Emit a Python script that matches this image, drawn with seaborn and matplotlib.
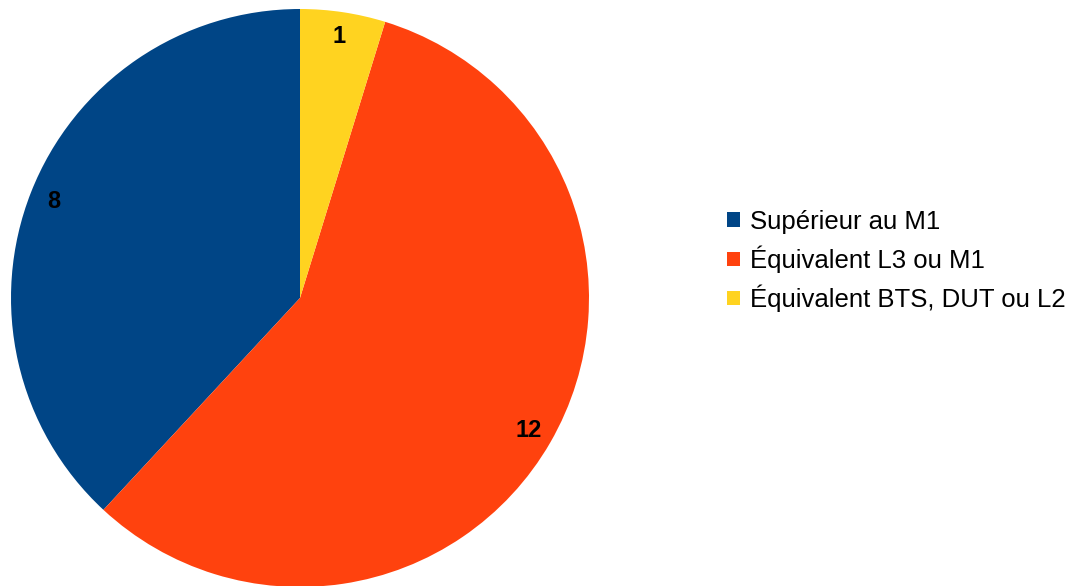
import matplotlib
matplotlib.use("Agg")
import matplotlib.pyplot as plt
import seaborn as sns

# Données
categories = ["Supérieur au M1", "Équivalent L3 ou M1", "Équivalent BTS, DUT ou L2"]
valeurs = [8, 12, 1]
couleurs = ["#004586", "#ff420e", "#ffd320"]

sns.set_theme(style="white")
plt.rcParams['font.family'] = ['Liberation Sans', 'DejaVu Sans']
plt.rcParams['text.color'] = 'black'

fig = plt.figure(figsize=(10.78, 5.86), dpi=100)
# axe placé pour que le camembert soit centré vers (300, 298) px, rayon ~289 px
ax = fig.add_axes([11 / 1078, (288 - 289) / 586, 578 / 1078, 578 / 586])

palette = sns.color_palette(couleurs)
wedges, textes = ax.pie(
    valeurs,
    colors=palette,
    startangle=90,
    counterclock=True,
    labels=[str(v) for v in valeurs],
    labeldistance=0.915,
    wedgeprops=dict(linewidth=0, edgecolor='none'),
    textprops=dict(fontsize=17, fontweight='bold', color='black', ha='center', va='center'),
)
ax.set_xlim(-1, 1)
ax.set_ylim(-1, 1)
ax.set_aspect('equal')

leg = fig.legend(
    wedges, categories,
    loc='center left',
    bbox_to_anchor=(727 / 1078, 1 - 261 / 586),
    frameon=False,
    fontsize=18.5,
    handlelength=0.5,
    handleheight=0.5,
    handletextpad=0.4,
    labelspacing=0.45,
    borderpad=0,
    borderaxespad=0,
)
for t in leg.get_texts():
    t.set_color('black')

plt.savefig("out.png", dpi=100)
plt.close()
